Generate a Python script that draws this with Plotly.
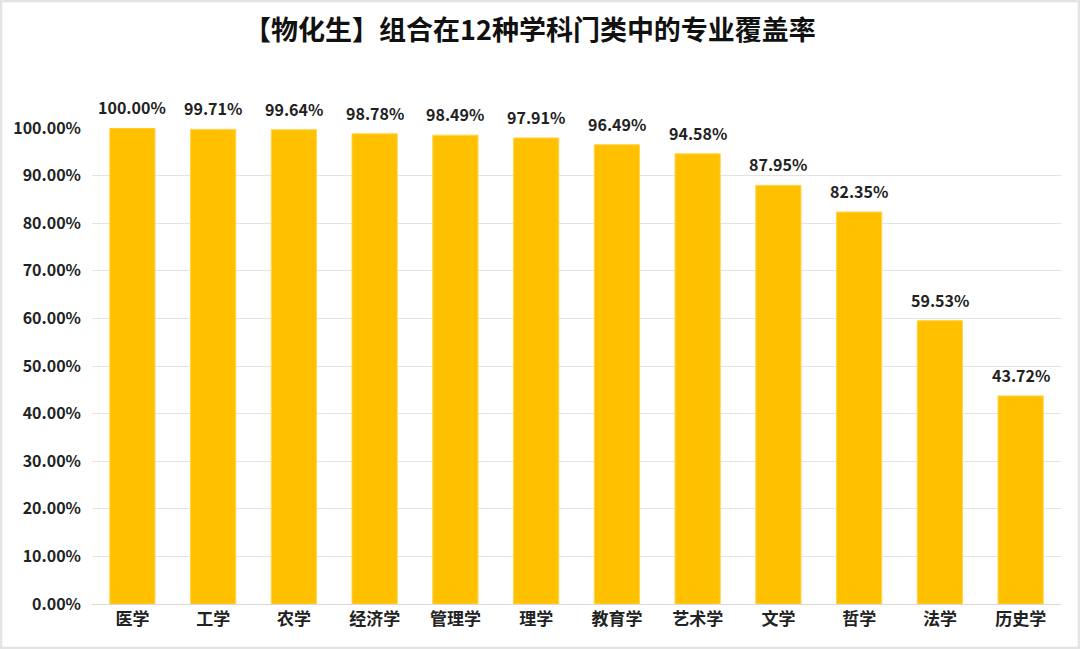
import plotly.graph_objects as go

categories = ["医学", "工学", "农学", "经济学", "管理学", "理学", "教育学", "艺术学", "文学", "哲学", "法学", "历史学"]
coverage = [100.00, 99.71, 99.64, 98.78, 98.49, 97.91, 96.49, 94.58, 87.95, 82.35, 59.53, 43.72]
title_text = "【物化生】组合在12种学科门类中的专业覆盖率"

FONT = "Noto Sans CJK SC"
W, H = 1080, 649
ML, MR, MT, MB = 92, 19, 128, 45

fig = go.Figure(go.Bar(
    x=categories,
    y=coverage,
    width=0.56,
    marker=dict(color="#FFC000", line=dict(color="#FFD54A", width=1)),
    hoverinfo="skip",
))

for c, v in zip(categories, coverage):
    fig.add_annotation(
        x=c, y=v, xref="x", yref="y",
        text="<b>%.2f%%</b>" % v,
        showarrow=False, yanchor="bottom", yshift=7,
        font=dict(family=FONT, size=16, color="#222222"),
    )

# faint frame around the whole picture
pw, ph = W - ML - MR, H - MT - MB
fig.add_shape(type="rect", xref="paper", yref="paper",
              x0=-(ML - 1) / pw, x1=1 + (MR - 1) / pw,
              y0=-(MB - 1) / ph, y1=1 + (MT - 1) / ph,
              line=dict(color="#E4E4E4", width=2.5), layer="above")

fig.update_layout(
    width=W, height=H,
    paper_bgcolor="white", plot_bgcolor="white",
    margin=dict(l=ML, r=MR, t=MT, b=MB),
    title=dict(text="<b>" + title_text + "</b>", x=0.4907, xanchor="center",
               y=0.953, yanchor="middle",
               font=dict(family=FONT, size=27, color="#111111")),
    showlegend=False,
    bargap=0.44,
)
fig.update_xaxes(
    showgrid=False, showline=True, linecolor="#D9D9D9", linewidth=1,
    tickfont=dict(family=FONT, size=17, color="#222222"),
    ticks="", tickprefix="<b>", ticksuffix="</b>",
)
fig.update_yaxes(
    range=[0, 100], dtick=10, tickformat=".2f", tickprefix="<b>", ticksuffix="%</b>",
    showgrid=True, gridcolor="#E3E3E3", gridwidth=1,
    zeroline=False, showline=False,
    tickfont=dict(family=FONT, size=16, color="#222222"),
    ticks="", ticklabelstandoff=10,
)
fig.write_html("out.html", config={"displayModeBar": False},
               post_script="document.body.style.margin='0';")
